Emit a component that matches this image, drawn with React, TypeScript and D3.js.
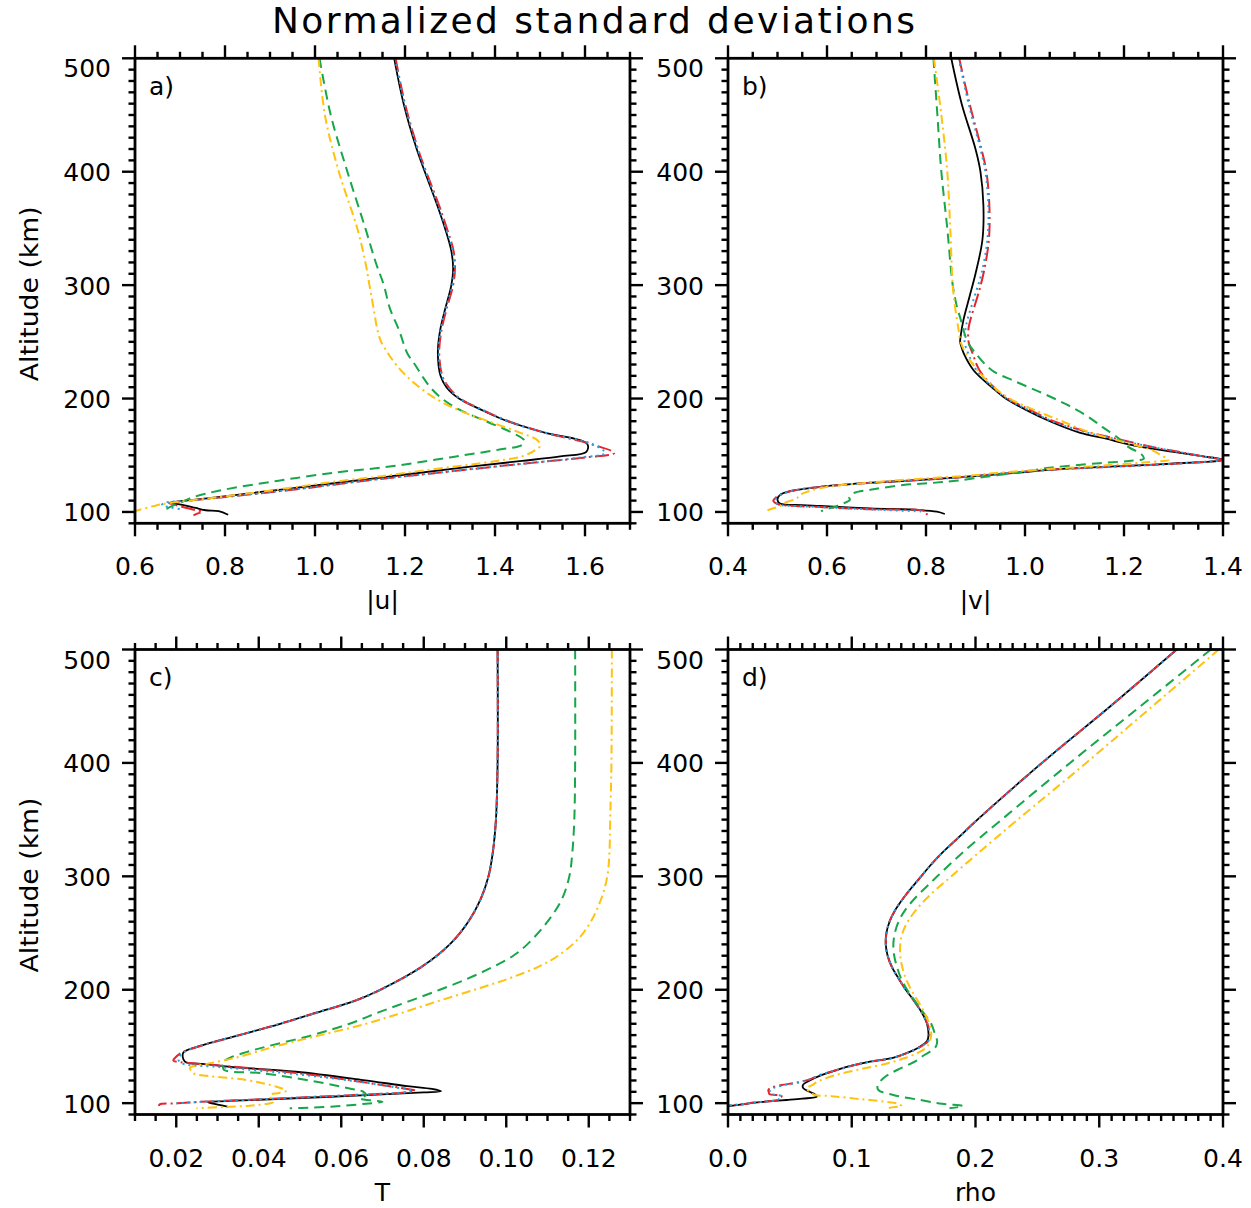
import React from 'react';
import * as d3 from 'd3';

type P = [number, number]; // [altitude (km), value]

// ---------- axis values ----------
const altDomain: [number, number] = [90, 500];
const altMajor = [100, 200, 300, 400, 500];
const altMinorStep = 10;

const uDomain: [number, number] = [0.6, 1.7];
const uMajor = [0.6, 0.8, 1.0, 1.2, 1.4, 1.6];
const vDomain: [number, number] = [0.4, 1.4];
const vMajor = [0.4, 0.6, 0.8, 1.0, 1.2, 1.4];
const tDomain: [number, number] = [0.01, 0.13];
const tMajor = [0.02, 0.04, 0.06, 0.08, 0.1, 0.12];
const rDomain: [number, number] = [0.0, 0.4];
const rMajor = [0.0, 0.1, 0.2, 0.3, 0.4];

// ---------- panel a: |u| ----------
const uBlack: P[] = [
  [500, 1.176], [460, 1.197], [420, 1.226], [400, 1.244], [370, 1.272], [350, 1.289], [330, 1.303],
  [315, 1.307], [300, 1.303], [280, 1.290], [260, 1.278], [240, 1.273], [220, 1.279], [210, 1.292],
  [200, 1.320], [190, 1.370], [180, 1.428], [170, 1.51], [160, 1.605], [153, 1.603], [149, 1.545],
  [145, 1.46], [140, 1.345], [131, 1.16], [120, 0.93], [112, 0.76], [108, 0.677], [106.3, 0.705],
  [103.5, 0.735], [101.5, 0.757], [100.8, 0.786], [97.5, 0.807],
];
const uRed: P[] = [
  [500, 1.179], [460, 1.200], [420, 1.229], [400, 1.247], [370, 1.276], [350, 1.293], [330, 1.308],
  [315, 1.311], [300, 1.307], [280, 1.293], [260, 1.281], [240, 1.276], [220, 1.283], [210, 1.297],
  [200, 1.322], [190, 1.372], [180, 1.43], [170, 1.51], [160, 1.612], [152, 1.665], [148, 1.60],
  [144, 1.50], [140, 1.40], [134, 1.26], [128, 1.12], [120, 0.96], [114, 0.82], [110, 0.72],
  [108, 0.675], [106, 0.69], [103.5, 0.715], [101.5, 0.735], [100.3, 0.75], [98.5, 0.738], [97, 0.73],
];
const uBlue: P[] = [
  [500, 1.178], [460, 1.199], [420, 1.228], [400, 1.246], [370, 1.274], [350, 1.291], [330, 1.306],
  [315, 1.309], [300, 1.305], [280, 1.291], [260, 1.279], [240, 1.275], [220, 1.282], [210, 1.296],
  [200, 1.322], [190, 1.372], [180, 1.43], [170, 1.51], [160, 1.615], [152, 1.645], [148, 1.59],
  [144, 1.50], [140, 1.40], [134, 1.26], [128, 1.12], [120, 0.955], [114, 0.82], [110, 0.72],
  [108, 0.665], [106, 0.66], [104, 0.68], [102.5, 0.70],
];
const uGreen: P[] = [
  [500, 1.010], [450, 1.035], [400, 1.072], [350, 1.112], [320, 1.135], [300, 1.153], [280, 1.166],
  [260, 1.187], [240, 1.205], [230, 1.222], [220, 1.238], [210, 1.256], [200, 1.282], [190, 1.322],
  [180, 1.380], [170, 1.437], [163, 1.465], [159, 1.46], [155, 1.41], [150, 1.33], [145, 1.25],
  [139.5, 1.156], [135, 1.05], [127.6, 0.919], [118.7, 0.786], [112.7, 0.727], [108, 0.70],
  [105.3, 0.683], [103, 0.672], [101.5, 0.672], [100.5, 0.676],
];
const uGold: P[] = [
  [500, 1.008], [450, 1.022], [400, 1.053], [350, 1.094], [320, 1.112], [300, 1.121], [280, 1.130],
  [260, 1.139], [250, 1.147], [240, 1.162], [230, 1.180], [220, 1.203], [210, 1.232], [200, 1.268],
  [190, 1.318], [180, 1.385], [170, 1.455], [163, 1.495], [158, 1.50], [153, 1.483], [149, 1.46],
  [146, 1.42], [143, 1.37], [140, 1.31], [136, 1.23], [132, 1.156], [126, 1.030], [118.7, 0.897],
  [112.4, 0.771], [107.8, 0.675], [106, 0.649], [103.5, 0.625], [100.9, 0.601], [99.5, 0.585],
];

// ---------- panel b: |v| ----------
const vBlack: P[] = [
  [500, 0.851], [460, 0.872], [420, 0.900], [400, 0.910], [370, 0.916], [340, 0.914], [310, 0.900],
  [290, 0.888], [270, 0.876], [255, 0.870], [250, 0.869], [245, 0.872], [240, 0.876], [225, 0.896],
  [210, 0.933], [200, 0.961], [190, 1.002], [180, 1.050], [170, 1.11], [165, 1.16], [160, 1.205],
  [157, 1.24], [153, 1.30], [149, 1.36], [146, 1.40], [142.2, 1.278], [137.9, 1.075], [134.5, 0.98],
  [131.7, 0.90], [128.2, 0.79], [125.8, 0.69], [122.3, 0.59], [118.7, 0.53], [115, 0.505],
  [110.5, 0.50], [107.5, 0.505], [106, 0.55], [105.3, 0.586], [103.2, 0.687], [101.7, 0.788],
  [100.2, 0.822], [98.2, 0.838],
];
const vRed: P[] = [
  [500, 0.867], [460, 0.888], [420, 0.912], [400, 0.922], [370, 0.928], [340, 0.927], [310, 0.916],
  [290, 0.904], [270, 0.890], [262, 0.886], [250, 0.886], [240, 0.894], [225, 0.908], [210, 0.937],
  [200, 0.965], [190, 1.010], [180, 1.058], [170, 1.132], [165, 1.18], [160, 1.229], [157, 1.26],
  [153, 1.31], [149, 1.36], [146, 1.398], [143, 1.32], [140, 1.18], [137.5, 1.06], [134.5, 0.97],
  [131.7, 0.90], [128.2, 0.79], [125.8, 0.69], [122.3, 0.59], [118.7, 0.53], [115, 0.505],
  [112, 0.495], [109.9, 0.4915], [107, 0.50], [105, 0.55], [104.3, 0.586], [102.3, 0.687],
  [100.2, 0.801], [97.3, 0.801],
];
const vBlue: P[] = [
  [500, 0.866], [460, 0.886], [420, 0.910], [400, 0.920], [370, 0.926], [340, 0.924], [310, 0.912],
  [290, 0.898], [270, 0.884], [262, 0.880], [250, 0.878], [240, 0.885], [225, 0.902], [210, 0.935],
  [200, 0.963], [190, 1.006], [180, 1.055], [170, 1.125], [165, 1.175], [160, 1.225], [157, 1.26],
  [153, 1.31], [149, 1.36], [146, 1.40], [143, 1.32], [140, 1.18], [137.5, 1.06], [134.5, 0.97],
  [131.7, 0.90], [128.2, 0.79], [125.8, 0.69], [122.3, 0.59], [118.7, 0.53], [115, 0.505],
  [112, 0.497], [109.9, 0.495], [107, 0.50], [105, 0.55], [104.3, 0.586], [102.3, 0.687],
  [100.5, 0.79],
];
const vGreen: P[] = [
  [500, 0.815], [450, 0.823], [400, 0.831], [350, 0.843], [300, 0.854], [280, 0.863], [270, 0.870],
  [260, 0.876], [250, 0.884], [240, 0.900], [225, 0.933], [215, 0.981], [205, 1.034], [195, 1.083],
  [185, 1.124], [175, 1.156], [165, 1.189], [157, 1.21], [151, 1.235], [147, 1.24], [145, 1.21],
  [143, 1.15], [139, 1.05], [135, 0.99], [131, 0.92], [127.5, 0.86], [125.5, 0.81], [123.8, 0.754],
  [120, 0.694], [116.5, 0.653], [113, 0.645], [110.5, 0.646], [107, 0.63], [104.1, 0.613],
  [101.7, 0.593], [100.5, 0.588],
];
const vGold: P[] = [
  [500, 0.816], [450, 0.831], [400, 0.843], [350, 0.849], [300, 0.854], [280, 0.859], [260, 0.866],
  [250, 0.870], [240, 0.880], [225, 0.904], [210, 0.937], [200, 0.969], [190, 1.018], [180, 1.075],
  [170, 1.132], [160, 1.213], [155, 1.254], [150, 1.275], [146, 1.29], [144, 1.25], [141, 1.16],
  [137, 1.02], [133.5, 0.92], [132.6, 0.902], [126.7, 0.707], [120.9, 0.586], [115, 0.545],
  [112, 0.539], [109, 0.52], [107, 0.51], [105.2, 0.505], [103, 0.49], [101.1, 0.478], [100, 0.472],
];

// ---------- panel c: T ----------
const tBlack: P[] = [
  [500, 0.0979], [400, 0.0979], [350, 0.0975], [320, 0.0967], [300, 0.0957], [280, 0.0938],
  [260, 0.0908], [240, 0.0863], [220, 0.0794], [200, 0.0695], [190, 0.0631], [180, 0.0542],
  [170, 0.0452], [160, 0.0353], [150, 0.0254], [144.5, 0.0217], [136.6, 0.0221], [134.5, 0.027],
  [132, 0.033], [127.7, 0.049], [120.4, 0.0653], [115, 0.076], [112.5, 0.082], [110.5, 0.0842],
  [109.5, 0.080], [107, 0.066], [105, 0.053], [103, 0.040], [101.5, 0.030], [100.8, 0.0277],
  [99.5, 0.029], [98, 0.031], [96.8, 0.0326],
];
const tRed: P[] = [
  [500, 0.0979], [400, 0.0979], [350, 0.0975], [320, 0.0967], [300, 0.0957], [280, 0.0938],
  [260, 0.0908], [240, 0.0863], [220, 0.0794], [200, 0.0695], [190, 0.0631], [180, 0.0542],
  [170, 0.0452], [160, 0.0353], [150, 0.0254], [145, 0.0215], [140, 0.0197], [137.5, 0.0193],
  [136.2, 0.021], [134, 0.028], [130, 0.040], [124, 0.055], [117, 0.068], [112.5, 0.076],
  [111, 0.078], [109.5, 0.0755], [107, 0.062], [105, 0.050], [103, 0.038], [101.5, 0.0277],
  [100.5, 0.023], [99.8, 0.020], [99, 0.016], [97.5, 0.0158],
];
const tBlue: P[] = [
  [500, 0.0979], [400, 0.0979], [350, 0.0975], [320, 0.0967], [300, 0.0957], [280, 0.0938],
  [260, 0.0908], [240, 0.0863], [220, 0.0794], [200, 0.0695], [190, 0.0631], [180, 0.0542],
  [170, 0.0452], [160, 0.0353], [150, 0.0254], [144.5, 0.0217], [139, 0.0205], [135.2, 0.0213],
  [132, 0.030], [127, 0.045], [120, 0.062], [114, 0.073], [111, 0.0774], [109.5, 0.075],
  [107, 0.062], [105, 0.050], [103, 0.038], [101.5, 0.0277], [100.5, 0.023], [99.8, 0.020],
];
const tGreen: P[] = [
  [500, 0.1167], [400, 0.1167], [350, 0.1165], [320, 0.116], [300, 0.1153], [280, 0.1135],
  [260, 0.110], [240, 0.1051], [230, 0.1017], [220, 0.0967], [210, 0.0908], [200, 0.0839],
  [190, 0.0765], [180, 0.069], [170, 0.062], [160, 0.053], [150, 0.042], [145, 0.037],
  [140, 0.033], [135, 0.031], [132, 0.0313], [129.2, 0.0316], [126.3, 0.0411], [118.9, 0.054],
  [113, 0.062], [110.1, 0.0653], [107, 0.066], [104.3, 0.0645], [102.5, 0.067], [101.3, 0.070],
  [99.5, 0.066], [97.5, 0.060], [96, 0.052], [95.5, 0.0475],
];
const tGold: P[] = [
  [500, 0.1256], [400, 0.1255], [350, 0.1252], [320, 0.125], [300, 0.1245], [280, 0.123],
  [260, 0.1205], [245, 0.1175], [230, 0.1126], [220, 0.1076], [210, 0.1007], [200, 0.0923],
  [190, 0.0835], [180, 0.075], [170, 0.066], [160, 0.055], [150, 0.044], [141, 0.0354],
  [135.2, 0.0282], [131, 0.0233], [128, 0.0238], [126.3, 0.0241], [120.4, 0.037], [114.5, 0.0443],
  [111, 0.0467], [109, 0.045], [107.2, 0.0427], [104, 0.043], [101, 0.0435], [98.5, 0.040],
  [97.5, 0.037], [96.5, 0.031], [95.5, 0.0249],
];

// ---------- panel d: rho ----------
const rBlack: P[] = [
  [500, 0.3626], [450, 0.309], [400, 0.2537], [350, 0.2016], [335, 0.187], [320, 0.1724],
  [310, 0.1638], [300, 0.1561], [290, 0.1484], [280, 0.1412], [270, 0.1350], [260, 0.1305],
  [250, 0.1280], [240, 0.1275], [230, 0.1290], [220, 0.1325], [210, 0.1378], [200, 0.1437],
  [190, 0.1505], [180, 0.1565], [170, 0.1608], [160, 0.162], [155, 0.161], [150, 0.1554],
  [145, 0.1463], [140, 0.1333], [136.6, 0.1147], [133, 0.10], [129.2, 0.0878], [125, 0.076],
  [120, 0.066], [116, 0.0605], [113.1, 0.0609], [110, 0.066], [107.5, 0.0705], [105.7, 0.0717],
  [104, 0.060], [102.8, 0.0474], [101.5, 0.032], [100.4, 0.0204], [99, 0.012], [97.5, 0.0],
];
const rRed: P[] = [
  [500, 0.3626], [450, 0.309], [400, 0.2537], [350, 0.2016], [335, 0.187], [320, 0.1724],
  [310, 0.1638], [300, 0.1561], [290, 0.1484], [280, 0.1412], [270, 0.1350], [260, 0.1305],
  [250, 0.1280], [240, 0.1275], [230, 0.1290], [220, 0.1325], [210, 0.1378], [200, 0.1437],
  [190, 0.1505], [180, 0.1565], [170, 0.1612], [160, 0.163], [155, 0.162], [150, 0.156],
  [145, 0.1463], [140, 0.1333], [136.6, 0.1147], [133, 0.10], [129.2, 0.0878], [125, 0.075],
  [121, 0.066], [118, 0.055], [116, 0.0434], [113.5, 0.035], [111.6, 0.0326], [109.5, 0.033],
  [108.1, 0.0334], [106.3, 0.0434], [104.5, 0.042], [102.8, 0.0406], [101.5, 0.030],
  [100.4, 0.0204], [99, 0.011], [98, 0.0],
];
const rBlue: P[] = [
  [500, 0.3626], [450, 0.309], [400, 0.2537], [350, 0.2016], [335, 0.187], [320, 0.1724],
  [310, 0.1638], [300, 0.1561], [290, 0.1484], [280, 0.1412], [270, 0.1350], [260, 0.1305],
  [250, 0.1280], [240, 0.1275], [230, 0.1290], [220, 0.1325], [210, 0.1378], [200, 0.1437],
  [190, 0.1505], [180, 0.1565], [170, 0.1612], [160, 0.163], [155, 0.162], [150, 0.156],
  [145, 0.1463], [140, 0.1333], [136.6, 0.1147], [133, 0.10], [129.2, 0.0878], [125, 0.075],
  [121, 0.066], [118, 0.056], [116, 0.046], [113.5, 0.037], [111.6, 0.034], [109.5, 0.034],
  [108, 0.035], [106.3, 0.043], [104.5, 0.042], [102.8, 0.040], [101.5, 0.030], [100.4, 0.0204],
  [99, 0.011], [98, 0.0],
];
const rGreen: P[] = [
  [500, 0.3902], [450, 0.3333], [400, 0.2764], [350, 0.2211], [320, 0.1886], [300, 0.1691],
  [290, 0.1596], [280, 0.1505], [270, 0.1430], [260, 0.1378], [250, 0.1348], [240, 0.1336],
  [230, 0.1343], [220, 0.1366], [210, 0.1398], [200, 0.1447], [190, 0.1512], [180, 0.1577],
  [170, 0.1642], [160, 0.1675], [155, 0.169], [150, 0.168], [146, 0.164], [142, 0.158],
  [138, 0.153], [134, 0.146], [130, 0.138], [126, 0.131], [121.9, 0.1255], [116, 0.121],
  [111.6, 0.1215], [107.2, 0.1336], [102.8, 0.1552], [99.5, 0.173], [97.5, 0.19], [96.5, 0.186],
  [95.5, 0.179],
];
const rGold: P[] = [
  [500, 0.3967], [450, 0.343], [400, 0.2894], [350, 0.2341], [320, 0.2016], [300, 0.1805],
  [290, 0.1697], [280, 0.1600], [270, 0.1517], [260, 0.1452], [250, 0.1410], [240, 0.1392],
  [230, 0.1392], [220, 0.1408], [210, 0.1437], [200, 0.148], [190, 0.1535], [180, 0.1587],
  [170, 0.1626], [160, 0.1642], [150, 0.161], [145, 0.1545], [140, 0.1437], [135, 0.1285],
  [130, 0.1073], [125, 0.0878], [120, 0.0745], [116, 0.068], [113.1, 0.0636], [110, 0.066],
  [107.2, 0.0703], [106.5, 0.08], [105.7, 0.088], [104, 0.103], [102.8, 0.1147], [100.5, 0.132],
  [99.9, 0.1363], [98.5, 0.139], [97.5, 0.1403], [96.5, 0.134], [95.5, 0.1283],
];

// ---------- styling ----------
const FONT = "'DejaVu Sans', sans-serif";
const styles = {
  black: { stroke: '#000000', dash: undefined as string | undefined, width: 1.8 },
  red: { stroke: '#e8242b', dash: '14 4 2 4', width: 2 },
  blue: { stroke: '#1fa2e2', dash: '2 4', width: 2 },
  green: { stroke: '#17a64a', dash: '10 6', width: 2 },
  gold: { stroke: '#ffc20e', dash: '9 4 2 4', width: 2 },
};
type StyleKey = keyof typeof styles;

const W = 495;
const H = 465;
const FS = 25;

interface PanelCfg {
  id: string;
  letter: string;
  left: number;
  top: number;
  xDomain: [number, number];
  xMajor: number[];
  xMinorStep: number;
  decimals: number;
  xLabel: string;
  yTitle: boolean;
  series: { key: StyleKey; data: P[] }[];
}

const panels: PanelCfg[] = [
  {
    id: 'a', letter: 'a)', left: 135, top: 58.3, xDomain: uDomain, xMajor: uMajor, xMinorStep: 0.05,
    decimals: 1, xLabel: '|u|', yTitle: true,
    series: [
      { key: 'black', data: uBlack }, { key: 'red', data: uRed }, { key: 'blue', data: uBlue },
      { key: 'green', data: uGreen }, { key: 'gold', data: uGold },
    ],
  },
  {
    id: 'b', letter: 'b)', left: 728, top: 58.3, xDomain: vDomain, xMajor: vMajor, xMinorStep: 0.05,
    decimals: 1, xLabel: '|v|', yTitle: false,
    series: [
      { key: 'black', data: vBlack }, { key: 'red', data: vRed }, { key: 'blue', data: vBlue },
      { key: 'green', data: vGreen }, { key: 'gold', data: vGold },
    ],
  },
  {
    id: 'c', letter: 'c)', left: 135, top: 649.5, xDomain: tDomain, xMajor: tMajor, xMinorStep: 0.005,
    decimals: 2, xLabel: 'T', yTitle: true,
    series: [
      { key: 'black', data: tBlack }, { key: 'red', data: tRed }, { key: 'blue', data: tBlue },
      { key: 'green', data: tGreen }, { key: 'gold', data: tGold },
    ],
  },
  {
    id: 'd', letter: 'd)', left: 728, top: 649.5, xDomain: rDomain, xMajor: rMajor, xMinorStep: 0.01,
    decimals: 1, xLabel: 'rho', yTitle: false,
    series: [
      { key: 'black', data: rBlack }, { key: 'red', data: rRed }, { key: 'blue', data: rBlue },
      { key: 'green', data: rGreen }, { key: 'gold', data: rGold },
    ],
  },
];

const MAJ = 13;
const MIN = 6.5;

function Panel({ cfg }: { cfg: PanelCfg }) {
  const x = d3.scaleLinear().domain(cfg.xDomain).range([cfg.left, cfg.left + W]);
  const y = d3.scaleLinear().domain(altDomain).range([cfg.top + H, cfg.top]);
  const line = d3
    .line<P>()
    .x((d) => x(d[1]))
    .y((d) => y(d[0]))
    .curve(d3.curveCatmullRom.alpha(0.5));

  const nx = Math.round((cfg.xDomain[1] - cfg.xDomain[0]) / cfg.xMinorStep);
  const xMinor = d3.range(nx + 1).map((i) => cfg.xDomain[0] + i * cfg.xMinorStep);
  const isXMajor = (v: number) => cfg.xMajor.some((m) => Math.abs(m - v) < 1e-9);
  const ny = Math.round((altDomain[1] - altDomain[0]) / altMinorStep);
  const yMinor = d3.range(ny + 1).map((i) => altDomain[0] + i * altMinorStep);
  const isYMajor = (v: number) => altMajor.includes(v);

  const x0 = cfg.left;
  const x1 = cfg.left + W;
  const y0 = cfg.top;
  const y1 = cfg.top + H;
  const fmt = d3.format(`.${cfg.decimals}f`);
  const clipId = `clip-${cfg.id}`;

  return (
    <g>
      <defs>
        <clipPath id={clipId}>
          <rect x={x0} y={y0} width={W} height={H} />
        </clipPath>
      </defs>
      <g clipPath={`url(#${clipId})`}>
        {cfg.series.map((s) => {
          const st = styles[s.key];
          return (
            <path
              key={s.key}
              d={line(s.data) || ''}
              fill="none"
              stroke={st.stroke}
              strokeWidth={st.width}
              strokeDasharray={st.dash}
              strokeLinejoin="round"
            />
          );
        })}
      </g>
      {xMinor.map((v, i) => {
        const len = isXMajor(v) ? MAJ : MIN;
        const px = x(v);
        return (
          <g key={`xt${i}`} stroke="#000" strokeWidth={2.4}>
            <line x1={px} x2={px} y1={y1} y2={y1 + len} />
            <line x1={px} x2={px} y1={y0} y2={y0 - len} />
          </g>
        );
      })}
      {yMinor.map((v, i) => {
        const len = isYMajor(v) ? MAJ : MIN;
        const py = y(v);
        return (
          <g key={`yt${i}`} stroke="#000" strokeWidth={2.4}>
            <line x1={x0} x2={x0 - len} y1={py} y2={py} />
            <line x1={x1} x2={x1 + len} y1={py} y2={py} />
          </g>
        );
      })}
      <rect x={x0} y={y0} width={W} height={H} fill="none" stroke="#000" strokeWidth={2.8} />
      {cfg.xMajor.map((v, i) => (
        <text key={`xl${i}`} x={x(v)} y={y1 + 52} textAnchor="middle" fontSize={FS} fontFamily={FONT}>
          {fmt(v)}
        </text>
      ))}
      {altMajor.map((v, i) => (
        <text
          key={`yl${i}`}
          x={x0 - 24}
          y={y(v) + (v === altDomain[1] ? 19 : 9.5)}
          textAnchor="end"
          fontSize={FS}
          fontFamily={FONT}
        >
          {v}
        </text>
      ))}
      <text x={x0 + 14} y={y0 + 36.7} fontSize={FS} fontFamily={FONT}>
        {cfg.letter}
      </text>
      <text x={(x0 + x1) / 2} y={y1 + 86} textAnchor="middle" fontSize={FS} fontFamily={FONT}>
        {cfg.xLabel}
      </text>
      {cfg.yTitle && (
        <text
          transform={`translate(38, ${(y0 + y1) / 2 + 3}) rotate(-90)`}
          textAnchor="middle"
          fontSize={FS}
          fontFamily={FONT}
          textLength={175}
          lengthAdjust="spacingAndGlyphs"
        >
          Altitude (km)
        </text>
      )}
    </g>
  );
}

export default function App() {
  return (
    <svg
      width={1251}
      height={1208}
      viewBox="0 0 1251 1208"
      style={{ display: 'block', position: 'absolute', left: 0, top: 0, background: '#fff' }}
    >
      <rect x={0} y={0} width={1251} height={1208} fill="#fff" />
      <text
        x={593.5}
        y={33}
        textAnchor="middle"
        fontSize={36}
        fontFamily={FONT}
        textLength={643}
        lengthAdjust="spacing"
      >
        Normalized standard deviations
      </text>
      {panels.map((p) => (
        <Panel key={p.id} cfg={p} />
      ))}
    </svg>
  );
}
